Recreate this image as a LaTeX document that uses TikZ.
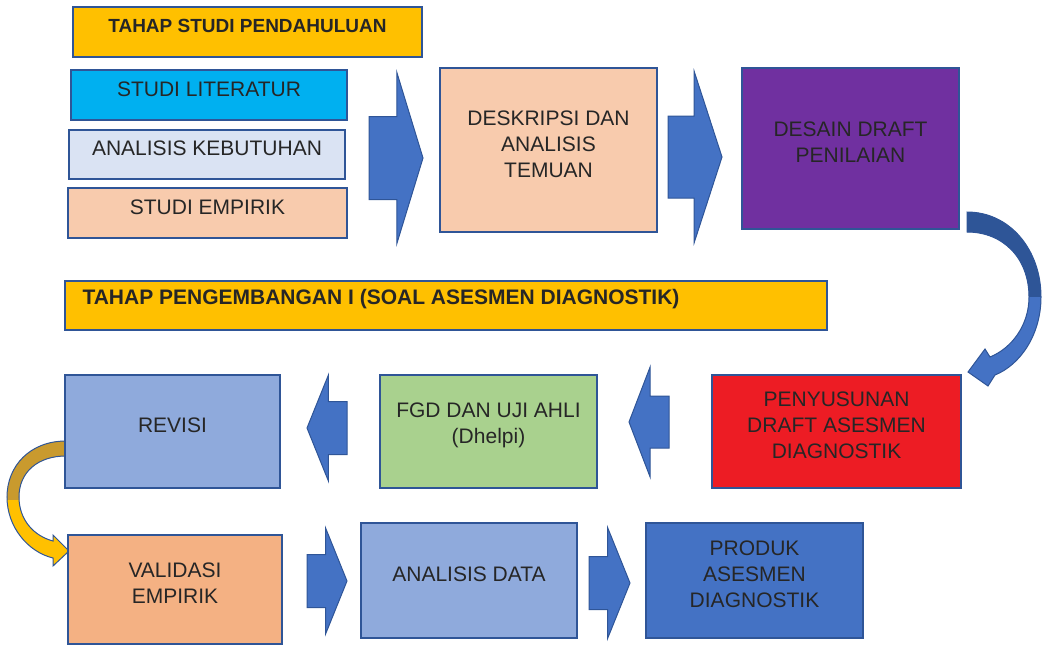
\documentclass[tikz,border=0pt]{standalone}
\usepackage{fontspec}
\setmainfont{Liberation Sans}
\usetikzlibrary{shapes.arrows}
\definecolor{garis}{HTML}{2F5597}
\definecolor{biru}{HTML}{4472C4}
\definecolor{birutua}{HTML}{2E5597}
\definecolor{kuning}{HTML}{FFC000}
\definecolor{emas}{HTML}{C99A2E}
\definecolor{langit}{HTML}{00B0F0}
\definecolor{pucat}{HTML}{DAE3F3}
\definecolor{persik}{HTML}{F8CBAD}
\definecolor{jingga}{HTML}{F4B183}
\definecolor{ungu}{HTML}{7030A0}
\definecolor{merah}{HTML}{ED1C24}
\definecolor{hijau}{HTML}{A9D18E}
\definecolor{biruabu}{HTML}{8FAADC}
\definecolor{gelap}{HTML}{262626}

\begin{document}
\begin{tikzpicture}[x=1pt, y=-1pt,
  kotak/.style={draw=garis, line width=1.3pt, inner sep=0pt, outer sep=0pt, anchor=north west},
  teks/.style={text=gelap, font=\fontsize{21}{26}\selectfont, align=center, yshift=6pt},
  judul/.style={teks, font=\bfseries\fontsize{19}{23}\selectfont},
  panah/.style={single arrow, draw=garis, fill=biru, line width=1pt, inner xsep=0pt,
    outer sep=0pt, anchor=tail}]
  \useasboundingbox (0,0) rectangle (1047,645);

  % panah lengkung
  \path[draw=garis, line width=1pt, fill=biru,
    path picture={\fill[birutua] (path picture bounding box.north west) rectangle ([yshift=-85pt]path picture bounding box.north east);}]
    (967,212) .. controls (1010,212) and (1041,250) .. (1041,297)
    .. controls (1041,335) and (1020,365) .. (995,375) -- (988,386) -- (968,372)
    -- (985,349) -- (990,357) .. controls (1012,348) and (1029,325) .. (1029,297)
    .. controls (1029,258) and (1003,232) .. (967,232) -- cycle;
  \path[draw=garis, line width=1pt, fill=kuning,
    path picture={\fill[emas] (path picture bounding box.north west) rectangle ([yshift=-59pt]path picture bounding box.north east);}]
    (66,441) .. controls (30,441) and (7,466) .. (7,497)
    .. controls (7,527) and (28,552) .. (53,558) -- (53,566) -- (69,551)
    -- (53,535) -- (53,541) .. controls (34,536) and (19,520) .. (19,497)
    .. controls (19,472) and (38,456) .. (66,456) -- cycle;

  % tahap studi pendahuluan
  \node[kotak, fill=kuning, minimum width=349, minimum height=50,
    label={[judul]center:TAHAP STUDI PENDAHULUAN}] (judul1) at (73,7) {};
  \node[kotak, fill=langit, minimum width=276, minimum height=50,
    label={[teks]center:STUDI LITERATUR}] (literatur) at (71,70) {};
  \node[kotak, fill=pucat, minimum width=276, minimum height=49,
    label={[teks]center:ANALISIS KEBUTUHAN}] (kebutuhan) at (69,130) {};
  \node[kotak, fill=persik, minimum width=279, minimum height=50,
    label={[teks]center:STUDI EMPIRIK}] (empirik) at (68,188) {};
  \node[kotak, fill=persik, minimum width=217, minimum height=164,
    label={[teks]center:DESKRIPSI DAN\\ANALISIS\\TEMUAN}] (deskripsi) at (440,68) {};
  \node[kotak, fill=ungu, minimum width=217, minimum height=161,
    label={[teks]center:DESAIN DRAFT\\PENILAIAN}] (desain) at (742,68) {};

  \node[panah, minimum height=54, inner ysep=41pt, single arrow head extend=44pt,
    single arrow tip angle=146] (p1) at (369,158) {};
  \node[panah, minimum height=54, inner ysep=40.5pt, single arrow head extend=44.5pt,
    single arrow tip angle=144] (p2) at (668,157) {};

  % tahap pengembangan
  \node[kotak, fill=kuning, minimum width=762, minimum height=49,
    label={[judul, font=\bfseries\fontsize{21}{25}\selectfont, anchor=west, xshift=14pt]west:TAHAP PENGEMBANGAN I (SOAL ASESMEN DIAGNOSTIK)}] (judul2) at (65,281) {};

  \node[kotak, fill=biruabu, minimum width=215, minimum height=113,
    label={[teks]center:REVISI}] (revisi) at (65,375) {};
  \node[kotak, fill=hijau, minimum width=217, minimum height=113,
    label={[teks]center:FGD DAN UJI AHLI\\(Dhelpi)}] (fgd) at (380,375) {};
  \node[kotak, fill=merah, minimum width=249, minimum height=113,
    label={[teks]center:PENYUSUNAN\\DRAFT ASESMEN\\DIAGNOSTIK}] (penyusunan) at (712,375) {};

  \node[panah, rotate=180, minimum height=40, inner ysep=26pt, single arrow head extend=26.5pt,
    single arrow tip angle=136] (p3) at (347,428) {};
  \node[panah, rotate=180, minimum height=40, inner ysep=25.5pt, single arrow head extend=29pt,
    single arrow tip angle=138] (p4) at (669,422) {};

  \node[kotak, fill=jingga, minimum width=214, minimum height=109,
    label={[teks]center:VALIDASI\\EMPIRIK}] (validasi) at (68,535) {};
  \node[kotak, fill=biruabu, minimum width=216, minimum height=115,
    label={[teks]center:ANALISIS DATA}] (analisis) at (361,523) {};
  \node[kotak, fill=biru, minimum width=217, minimum height=115,
    label={[teks]center:PRODUK\\ASESMEN\\DIAGNOSTIK}] (produk) at (646,523) {};

  \node[panah, minimum height=40, inner ysep=26pt, single arrow head extend=26.5pt,
    single arrow tip angle=136] (p5) at (307,581) {};
  \node[panah, minimum height=41, inner ysep=26pt, single arrow head extend=29pt,
    single arrow tip angle=136] (p6) at (589,583) {};
\end{tikzpicture}
\end{document}
